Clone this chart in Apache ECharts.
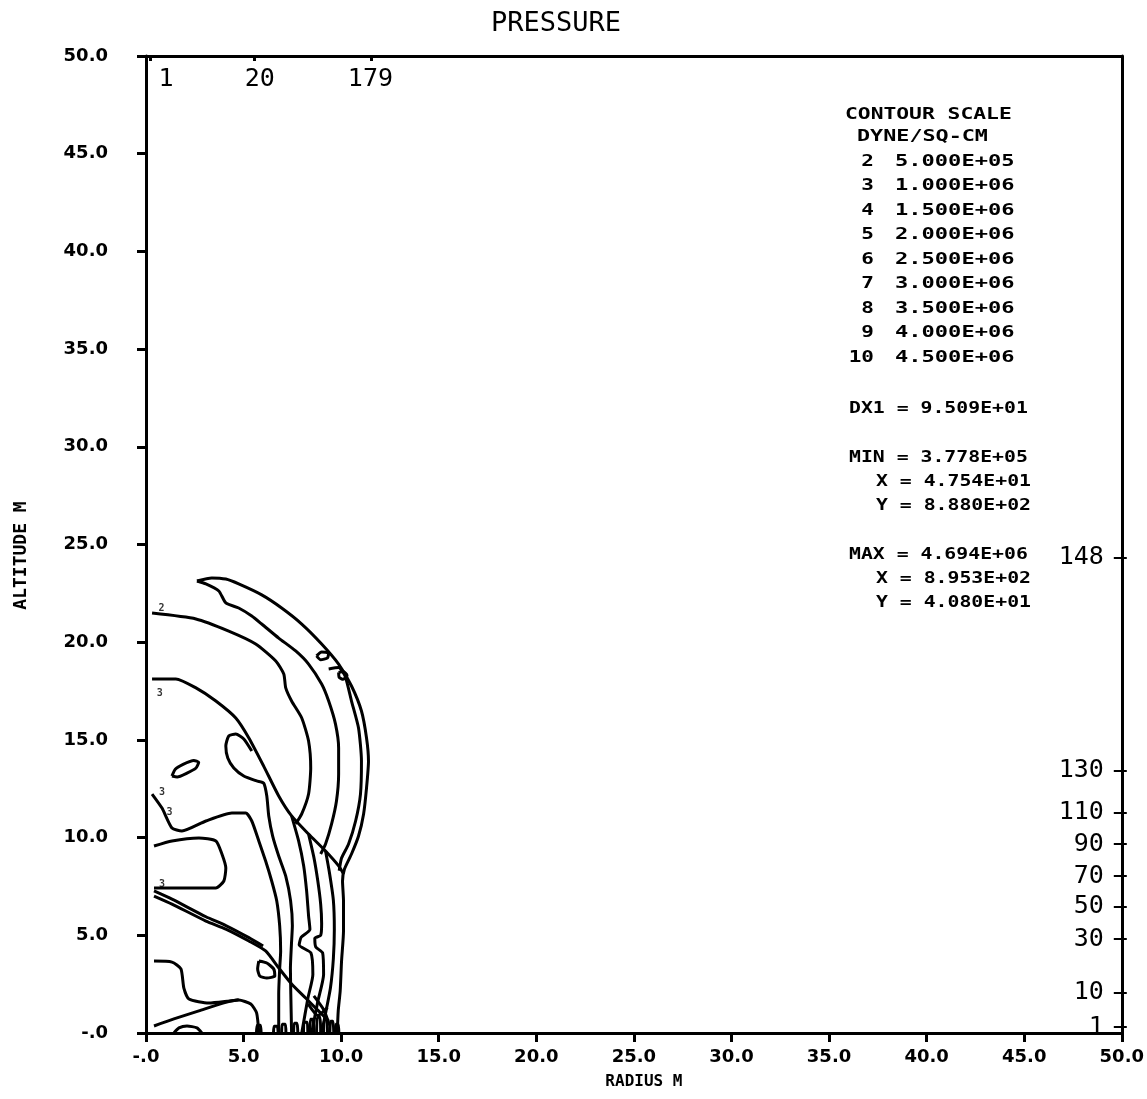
<!DOCTYPE html>
<html>
<head>
<meta charset="utf-8">
<title>PRESSURE</title>
<script src="https://cdn.jsdelivr.net/npm/echarts@6/dist/echarts.min.js"></script>
<style>
html,body{margin:0;padding:0;background:#fff;}
#main{width:1147px;height:1099px;}
</style>
</head>
<body>
<div id="main"></div>
<script>
// axis tick labels (radius / altitude, metres)
var tickLabels = ['-.0','5.0','10.0','15.0','20.0','25.0','30.0','35.0','40.0','45.0','50.0'];

// grid index marks on the frame
var topIdxTicks = [0.2, 5.57, 11.55];
var topIdxLabelPos = [1.02, 5.83, 11.5];
var topIdxLabels = ['1', '20', '179'];
var rightIdxValues = [0.3, 2.05, 4.81, 6.45, 8.03, 9.67, 11.26, 13.41, 24.31];
var rightIdxLabels = ['1', '10', '30', '50', '70', '90', '110', '130', '148'];

// contour scale text
var contourIds = ['2','3','4','5','6','7','8','9','10'];
var contourLevels = ['5.000E+05','1.000E+06','1.500E+06','2.000E+06','2.500E+06','3.000E+06','3.500E+06','4.000E+06','4.500E+06'];
var statLines = ['DX1 = 9.509E+01', 'MIN = 3.778E+05', 'X = 4.754E+01', 'Y = 8.880E+02', 'MAX = 4.694E+06', 'X = 8.953E+02', 'Y = 4.080E+01'];

// contour lines, [radius, altitude]
var outerFront = [[2.61,23.13],[3.37,23.29],[4.09,23.23],[4.75,22.98],[5.93,22.42],[6.95,21.75],[7.98,20.93],[9.0,19.91],[9.87,18.88],[10.53,17.76],[11.04,16.48],[11.3,15.1],[11.4,13.92],[11.3,12.54],[11.15,11.21],[10.89,10.08],[10.53,9.16],[10.17,8.39],[10.07,7.78],[10.12,6.76],[10.12,5.22],[10.02,3.68],[9.95,2.15],[9.85,1.13],[9.8,0]];
var outerFront2 = [[9.36,18.63],[9.87,18.7],[10.2,18.27],[10.53,16.99],[10.89,15.61],[11.04,13.92],[10.99,12.23],[10.74,10.85],[10.38,9.67],[10.02,8.95],[9.9,8.3]];
var lobeInner = [[2.61,23.13],[3.07,22.98],[3.73,22.62],[4.09,22.01],[4.75,21.75],[5.42,21.34],[5.93,20.93],[6.8,20.21],[7.67,19.55],[8.33,18.88],[9.0,17.86],[9.36,16.99],[9.71,15.81],[9.87,14.59],[9.87,13.25],[9.76,11.87],[9.51,10.7],[9.2,9.67],[8.95,9.16]];
var level2Line = [[0.31,21.49],[2.56,21.19],[4.24,20.57],[5.62,19.91],[6.65,19.04],[7.06,18.37],[7.16,17.66],[7.46,16.99],[7.98,16.12],[8.33,14.94],[8.44,13.56],[8.33,12.23],[7.98,11.21],[7.67,10.7]];
var level3Line = [[0.31,18.12],[1.53,18.12],[2.56,17.66],[3.58,16.99],[4.6,16.12],[5.27,15.1],[6.03,13.66],[6.8,12.13],[7.46,11.11],[8.33,10.18],[9.2,9.31],[9.87,8.55],[10.12,8.14]];
var lobeLine = [[5.42,14.43],[5.01,15.05],[4.6,15.3],[4.24,15.2],[4.09,14.69],[4.19,14.07],[4.5,13.56],[5.01,13.15],[5.67,12.9],[6.03,12.79],[6.19,12.13],[6.29,11.11],[6.49,10.08],[6.8,9.06],[7.16,8.03],[7.41,6.76],[7.5,5.5],[7.45,4.5],[7.4,3.3],[7.42,2.0],[7.46,0]];
var midLine = [[0.31,12.23],[0.82,11.51],[1.33,10.49],[1.84,10.34],[3.07,10.85],[4.4,11.26],[5.11,11.26],[5.42,10.85],[5.78,9.83],[6.13,8.8],[6.44,7.78],[6.7,6.76],[6.85,5.48],[6.9,4.2],[6.85,3.3],[6.8,2.0],[6.8,0]];
var uLine = [[0.41,9.57],[1.33,9.83],[2.71,9.98],[3.58,9.83],[3.89,9.16],[4.09,8.44],[3.99,7.78],[3.58,7.42],[2.2,7.42],[0.66,7.42],[0.41,7.42]];
var lowerDiag = [[0.41,7.01],[1.33,6.6],[3.07,5.73],[4.09,5.32],[5.27,4.71],[6.13,4.2],[6.8,3.33],[7.46,2.51],[8.18,1.79],[8.84,1.13],[9.36,0.61]];
var lowerDiag2 = [[0.41,7.27],[1.33,6.85],[3.07,5.95],[4.09,5.5],[5.27,4.88],[6.0,4.45]];
var lowLeft = [[0.41,3.68],[1.33,3.63],[1.79,3.28],[1.94,2.3],[2.2,1.74],[3.22,1.54],[4.24,1.64],[4.75,1.7]];
var bottomLeft = [[0.41,0.36],[1.43,0.72],[2.71,1.13],[3.99,1.54],[4.75,1.69],[5.37,1.48],[5.67,1.02],[5.78,0]];
var bottomBump = [[1.43,0],[1.69,0.26],[2.1,0.36],[2.61,0.26],[2.86,0]];
var frontA = [[7.46,11.11],[7.82,9.83],[8.08,8.55],[8.23,7.27],[8.33,6.0],[8.4,5.3],[7.95,4.9],[7.85,4.5],[8.45,4.1],[8.55,3.0],[8.3,1.8],[7.98,0]];
var frontB = [[8.33,10.18],[8.6,9.0],[8.8,7.8],[8.95,6.6],[9.0,5.6],[8.95,5.0],[8.65,4.85],[8.7,4.4],[9.05,4.1],[9.1,3.0],[8.8,1.6],[8.49,0]];
var frontC = [[9.2,9.31],[9.4,8.2],[9.6,6.8],[9.65,5.3],[9.6,3.8],[9.45,2.3],[9.2,1.0],[9.0,0]];
var ellipseLoop = [[1.33,13.15],[1.5,13.5],[1.9,13.75],[2.45,13.95],[2.7,13.85],[2.55,13.55],[2.1,13.3],[1.6,13.1],[1.33,13.15]];
var loopA = [[8.74,19.3],[9.0,19.5],[9.36,19.45],[9.3,19.2],[8.95,19.1],[8.74,19.3]];
var loopB = [[9.87,18.45],[10.1,18.5],[10.3,18.3],[10.1,18.1],[9.9,18.2],[9.87,18.45]];
var loopC = [[5.78,3.68],[6.19,3.58],[6.54,3.28],[6.6,2.92],[6.19,2.81],[5.83,2.92],[5.72,3.28],[5.78,3.68]];
var bottomSpikes = [
  [[5.66,0],[5.7,0.4],[5.86,0.4],[5.9,0]],
  [[6.53,0],[6.57,0.35],[6.73,0.35],[6.77,0]],
  [[6.95,0],[6.98,0.45],[7.14,0.45],[7.17,0]],
  [[7.56,0],[7.6,0.5],[7.74,0.5],[7.78,0]],
  [[8.07,0],[8.1,0.55],[8.26,0.55],[8.29,0]],
  [[8.4,0],[8.43,0.7],[8.56,0.7],[8.6,0]],
  [[8.74,0],[8.78,0.8],[8.92,0.8],[8.95,0]],
  [[9.1,0],[9.14,0.7],[9.27,0.7],[9.3,0]],
  [[9.42,0],[9.46,0.6],[9.58,0.6],[9.62,0]],
  [[9.7,0],[9.73,0.45],[9.85,0.45],[9.88,0]],
  [[8.3,1.5],[8.8,0.9],[9.3,1.3]],
  [[8.6,1.9],[9.1,1.2],[9.4,0.4]]
];
// small level tags at line ends
var levelTags = [
  {value:[0.8,21.75], name:'2'},
  {value:[0.7,17.4], name:'3'},
  {value:[0.82,12.3], name:'3'},
  {value:[1.2,11.3], name:'3'},
  {value:[0.82,7.6], name:'3'}
];

var contours = [outerFront, outerFront2, lobeInner, level2Line, level3Line, lobeLine, midLine, uLine,
  lowerDiag, lowerDiag2, lowLeft, bottomLeft, bottomBump, frontA, frontB, frontC,
  ellipseLoop, loopA, loopB, loopC].concat(bottomSpikes);

var labelFont = 'DejaVu Sans';
var monoFont = 'DejaVu Sans Mono';

function nearest(vals, v) {
  var best = 0;
  for (var i = 1; i < vals.length; i++) {
    if (Math.abs(vals[i] - v) < Math.abs(vals[best] - v)) best = i;
  }
  return best;
}

var series = [];
for (var i = 0; i < contours.length; i++) {
  series.push({
    type: 'line',
    data: contours[i],
    symbol: 'none',
    smooth: 0.2,
    silent: true,
    lineStyle: {color: '#000', width: 3}
  });
}
series.push({
  type: 'scatter',
  data: levelTags,
  symbolSize: 0,
  silent: true,
  label: {show: true, formatter: '{b}', color: '#000', fontSize: 10, fontWeight: 'bold', fontFamily: monoFont}
});

// contour scale block
var graphics = [];
function addText(txt, x, y, align, sx) {
  graphics.push({
    type: 'text', x: x, y: y, scaleX: sx || 1.32, silent: true,
    style: {text: txt, x: 0, y: 0, fill: '#000', fontSize: 15, fontWeight: 'bold',
      fontFamily: monoFont, align: align || 'left', verticalAlign: 'middle'}
  });
}
addText('CONTOUR SCALE', 845, 115, 'left', 1.42);
addText('DYNE/SQ-CM', 857, 137, 'left', 1.45);
for (var k = 0; k < contourIds.length; k++) {
  addText(contourIds[k], 874, 162 + k * 24.5, 'right', 1.4);
  addText(contourLevels[k], 895, 162 + k * 24.5, 'left', 1.47);
}
var statY = [409, 458, 482, 506, 555, 579, 603];
var statX = [849, 849, 876, 876, 849, 876, 876];
for (var s = 0; s < statLines.length; s++) {
  addText(statLines[s], statX[s], statY[s]);
}

var frameLine = {onZero: false, lineStyle: {color: '#000', width: 3}};

var myChart = echarts.init(document.getElementById('main'));
myChart.setOption({
  animation: false,
  backgroundColor: '#fff',
  title: {
    text: 'PRESSURE', left: 486, top: 5,
    textStyle: {fontFamily: monoFont, fontSize: 27, fontWeight: 'normal', color: '#000'}
  },
  grid: {left: 146, top: 56, width: 979, height: 977},
  xAxis: [{
    type: 'value', min: 0, max: 50, interval: 5, position: 'bottom',
    name: 'RADIUS M', nameLocation: 'middle', nameGap: 41,
    nameTextStyle: {fontFamily: monoFont, fontWeight: 'bold', fontSize: 16, color: '#000', padding: [0, 0, 0, 20]},
    axisLine: frameLine,
    axisTick: {length: 9, lineStyle: {color: '#000', width: 3}},
    axisLabel: {margin: 15, color: '#000', fontFamily: labelFont, fontWeight: 'bold', fontSize: 18,
      formatter: function (v) { return tickLabels[Math.round(v / 5)]; }},
    splitLine: {show: false}
  }, {
    type: 'value', min: 0, max: 50, position: 'top',
    axisLine: frameLine,
    axisTick: {inside: true, length: 5, customValues: topIdxTicks, lineStyle: {color: '#000', width: 3}},
    axisLabel: {show: false},
    splitLine: {show: false}
  }, {
    type: 'value', min: 0, max: 50, position: 'top',
    axisLine: {show: false, onZero: false},
    axisTick: {show: false},
    axisLabel: {inside: true, margin: 11, color: '#000', fontFamily: monoFont, fontSize: 25,
      customValues: topIdxLabelPos,
      formatter: function (v) { return topIdxLabels[nearest(topIdxLabelPos, v)]; }},
    splitLine: {show: false}
  }],
  yAxis: [{
    type: 'value', min: 0, max: 50, interval: 5, position: 'left',
    name: 'ALTITUDE M', nameLocation: 'middle', nameGap: 116, nameRotate: 90,
    nameTextStyle: {fontFamily: monoFont, fontWeight: 'bold', fontSize: 18, color: '#000', padding: [0, 22, 0, 0]},
    axisLine: frameLine,
    axisTick: {length: 9, lineStyle: {color: '#000', width: 3}},
    axisLabel: {margin: 38, color: '#000', fontFamily: labelFont, fontWeight: 'bold', fontSize: 18,
      formatter: function (v) { return tickLabels[Math.round(v / 5)]; }},
    splitLine: {show: false}
  }, {
    type: 'value', min: 0, max: 50, position: 'right',
    axisLine: frameLine,
    axisTick: {inside: true, length: 8, customValues: rightIdxValues, lineStyle: {color: '#000', width: 2}},
    axisLabel: {inside: true, margin: 18, color: '#000', fontFamily: monoFont, fontSize: 25,
      customValues: rightIdxValues,
      formatter: function (v) { return rightIdxLabels[nearest(rightIdxValues, v)]; }},
    splitLine: {show: false}
  }, {
    type: 'value', min: 0, max: 50, position: 'right',
    axisLine: {show: false, onZero: false},
    axisTick: {length: 5, customValues: rightIdxValues, lineStyle: {color: '#000', width: 2}},
    axisLabel: {show: false},
    splitLine: {show: false}
  }],
  graphic: graphics,
  series: series
});
</script>
</body>
</html>
